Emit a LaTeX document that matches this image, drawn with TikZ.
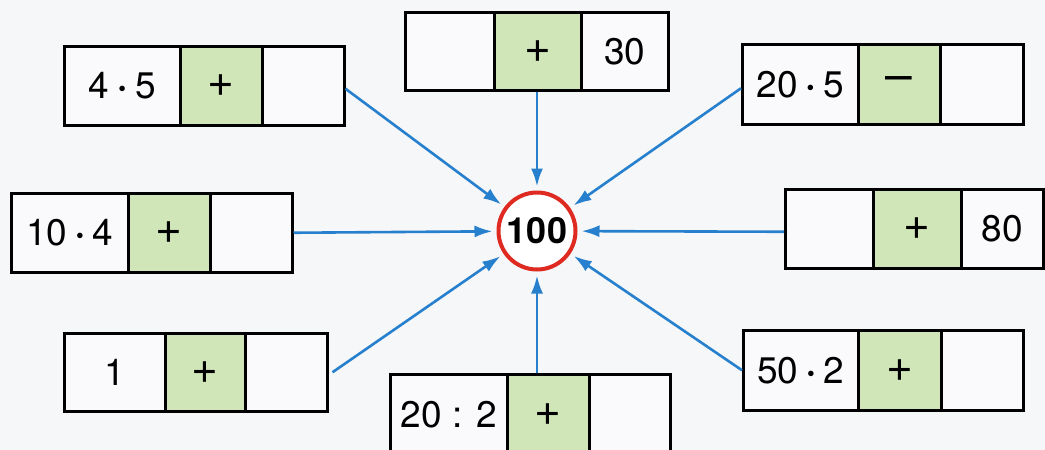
\documentclass[tikz,border=0pt]{standalone}
\usepackage{fontspec}
\setmainfont{TeX Gyre Heros}
\usetikzlibrary{arrows.meta,calc}
\definecolor{bgc}{RGB}{246,247,249}
\definecolor{cellw}{RGB}{250,250,252}
\definecolor{cellg}{RGB}{208,230,184}
\definecolor{ringred}{RGB}{222,42,32}
\definecolor{arrblue}{RGB}{38,128,205}
\newcommand{\mdot}{\hspace{9pt}{\fontsize{22}{22}\selectfont\raisebox{2pt}{•}}\hspace{9pt}}
\newcommand{\bigplus}{{\fontsize{46}{46}\selectfont +}}
\newcommand{\bigminus}{{\fontsize{48}{48}\selectfont –}}
\tikzset{
  cell/.style={draw=black, line width=2.5pt, fill=cellw, inner sep=0pt,
    anchor=north west, font=\fontsize{37}{40}\selectfont},
  gcell/.style={cell, fill=cellg},
  arr/.style={draw=arrblue, line width=2.6pt,
    -{Latex[length=18pt,width=12pt]}, shorten >=4pt},
  ring/.style={circle, draw=ringred, line width=4pt, fill=white,
    minimum size=77pt, inner sep=0pt, font=\fontsize{36}{38}\selectfont\bfseries}
}
\begin{document}
\begin{tikzpicture}[x=1pt,y=-1pt]
\useasboundingbox (0,0) rectangle (1045,450);
\fill[bgc] (0,0) rectangle (1045,450);

% centre
\node[ring] (c) at (537,231) {100};

% box 1 (top left)
\node[cell, minimum width=116pt, minimum height=79pt] (b1a) at (63,45) {4\mdot5};
\node[gcell, minimum width=82pt, minimum height=79pt] (b1b) at (179,45) {\bigplus};
\node[cell, minimum width=82pt, minimum height=79pt] (b1c) at (261,45) {};

% box 2 (top centre)
\node[cell, minimum width=89pt, minimum height=78pt] (b2a) at (404,11) {};
\node[gcell, minimum width=87pt, minimum height=78pt] (b2b) at (493,11) {\bigplus};
\node[cell, minimum width=87pt, minimum height=78pt] (b2c) at (580,11) {30};

% box 3 (top right)
\node[cell, minimum width=116pt, minimum height=80pt] (b3a) at (741,43) {20\mdot5};
\node[gcell, minimum width=82pt, minimum height=80pt] (b3b) at (857,43) {\bigminus};
\node[cell, minimum width=83pt, minimum height=80pt] (b3c) at (939,43) {};

% box 4 (middle left)
\node[cell, minimum width=117pt, minimum height=79pt] (b4a) at (10,192) {10\mdot4};
\node[gcell, minimum width=82pt, minimum height=79pt] (b4b) at (127,192) {\bigplus};
\node[cell, minimum width=82pt, minimum height=79pt] (b4c) at (209,192) {};

% box 5 (middle right)
\node[cell, minimum width=88pt, minimum height=79pt] (b5a) at (784,188) {};
\node[gcell, minimum width=88pt, minimum height=79pt] (b5b) at (872,188) {\bigplus};
\node[cell, minimum width=82pt, minimum height=79pt] (b5c) at (960,188) {80};

% box 6 (bottom left)
\node[cell, minimum width=101pt, minimum height=78pt] (b6a) at (63,332) {1};
\node[gcell, minimum width=80pt, minimum height=78pt] (b6b) at (164,332) {\bigplus};
\node[cell, minimum width=82pt, minimum height=78pt] (b6c) at (244,332) {};

% box 7 (bottom centre)
\node[cell, minimum width=117pt, minimum height=80pt] (b7a) at (389,373) {20 : 2};
\node[gcell, minimum width=82pt, minimum height=80pt] (b7b) at (506,373) {\bigplus};
\node[cell, minimum width=81pt, minimum height=80pt] (b7c) at (588,373) {};

% box 8 (bottom right)
\node[cell, minimum width=115pt, minimum height=80pt] (b8a) at (742,329) {50\mdot2};
\node[gcell, minimum width=83pt, minimum height=80pt] (b8b) at (857,329) {\bigplus};
\node[cell, minimum width=82pt, minimum height=80pt] (b8c) at (940,329) {};

% arrows
\draw[arr] ([yshift=-3pt]b1c.east) -- (c);
\draw[arr] (c |- b2b.south) -- (c);
\draw[arr] ([yshift=-4pt]b3a.west) -- (c);
\draw[arr] (b4c.east) -- (c);
\draw[arr] ([yshift=-3pt]b5a.west) -- (c);
\draw[arr] ([xshift=4pt]b6c.east) -- (c);
\draw[arr] (c |- b7b.north) -- (c);
\draw[arr] (b8a.west) -- (c);
\end{tikzpicture}
\end{document}
